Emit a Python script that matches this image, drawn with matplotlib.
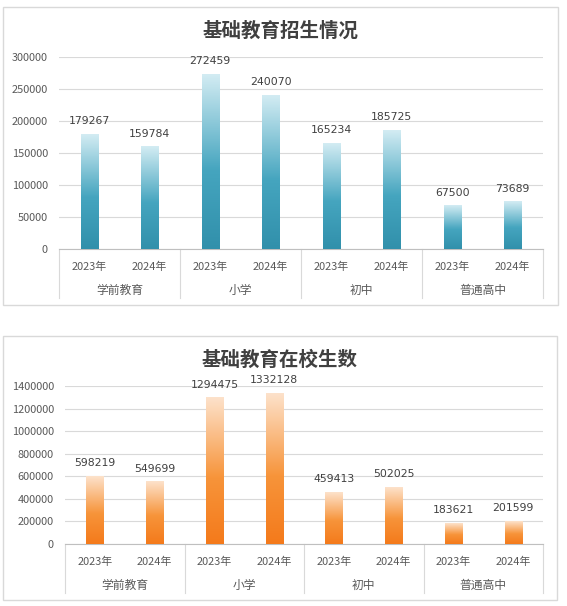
import matplotlib
matplotlib.use("Agg")
import matplotlib.pyplot as plt
import numpy as np
from matplotlib.colors import LinearSegmentedColormap
from matplotlib.patches import Rectangle
from matplotlib.ticker import FuncFormatter
from matplotlib import transforms

plt.rcParams['font.family'] = ['Noto Sans CJK SC', 'DejaVu Sans']

categories = ['学前教育', '小学', '初中', '普通高中']
years = ['2023年', '2024年']
enroll = [179267, 159784, 272459, 240070, 165234, 185725, 67500, 73689]
students = [598219, 549699, 1294475, 1332128, 459413, 502025, 183621, 201599]

W, H = 567, 606
fig = plt.figure(figsize=(W / 100, H / 100), dpi=100)
fig.patch.set_facecolor('white')

blue = LinearSegmentedColormap.from_list('b', [(0, '#3190ab'), (0.45, '#45a5bf'), (1, '#d3ecf3')])
orange = LinearSegmentedColormap.from_list('o', [(0, '#f47a1b'), (0.45, '#f7943a'), (1, '#fde2cb')])


def px_box(l, t, r, b):
    return [l / W, 1 - b / H, (r - l) / W, (b - t) / H]


def panel(box, plot, title, values, ymax, step, cmap):
    # outer frame
    l, t, r, b = box
    fig.add_artist(Rectangle((l / W, 1 - b / H), (r - l) / W, (b - t) / H,
                             transform=fig.transFigure, fill=False,
                             edgecolor='#d9d9d9', lw=1))
    ax = fig.add_axes(px_box(*plot))
    pl, pt, pr, pb = plot
    ax_h = pb - pt

    x = np.arange(len(values))
    w = 0.285
    gradient = np.linspace(0, 1, 256).reshape(-1, 1)
    for xi, v in zip(x, values):
        ax.imshow(gradient, cmap=cmap, origin='lower', aspect='auto',
                  extent=[xi - w / 2, xi + w / 2, 0, v], zorder=3)
        ax.annotate(f'{v}', xy=(xi, v), xytext=(0, 9.5), textcoords='offset points',
                    ha='center', va='center', fontsize=7.8, color='#404040',
                    family='DejaVu Sans')

    ax.set_xlim(-0.5, len(values) - 0.5)
    ax.set_ylim(0, ymax)
    ax.set_yticks(np.arange(0, ymax + 1, step))
    ax.yaxis.set_major_formatter(FuncFormatter(lambda v, p: f'{int(v)}'))
    ax.yaxis.grid(True, color='#d9d9d9', lw=0.8)
    ax.set_axisbelow(True)
    for s in ['top', 'right', 'left']:
        ax.spines[s].set_visible(False)
    ax.spines['bottom'].set_color('#bfbfbf')
    ax.set_xticks([])
    ax.tick_params(axis='y', length=0, pad=8, labelsize=7.9, labelcolor='#595959')

    # year labels and category labels
    trans = transforms.blended_transform_factory(ax.transData, ax.transAxes)
    for i, xi in enumerate(x):
        ax.text(xi, -18 / ax_h, years[i % 2], transform=trans, ha='center', va='center',
                fontsize=7.9, color='#595959')
    for j, c in enumerate(categories):
        ax.text(2 * j + 0.5, -41 / ax_h, c, transform=trans, ha='center', va='center',
                fontsize=8.5, color='#595959')
    for k in range(len(categories) + 1):
        ax.plot([2 * k - 0.5] * 2, [0, -49 / ax_h], transform=trans, color='#d9d9d9',
                lw=0.8, clip_on=False)

    fig.text((l + r) / 2 / W, 1 - (t + 24) / H, title, ha='center', va='center',
             fontsize=14, fontweight='bold', color='#404040')
    return ax


panel((3, 7, 558, 305), (59, 57, 543, 249), '基础教育招生情况', enroll, 300000, 50000, blue)
panel((3, 336, 557, 600), (65, 386, 543, 544), '基础教育在校生数', students, 1400000, 200000, orange)

fig.savefig('out.png', dpi=100)
